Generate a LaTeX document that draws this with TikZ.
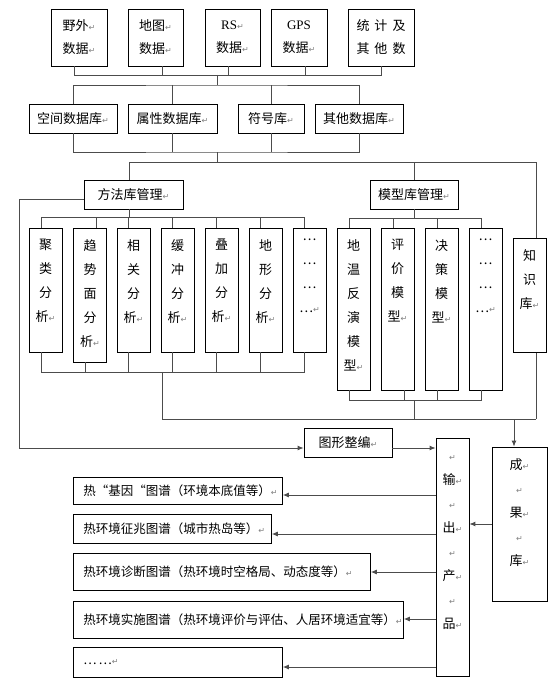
\documentclass[tikz,border=0pt]{standalone}
\usepackage{fontspec}
\setmainfont{Noto Sans CJK SC}
\newfontfamily\latinfont{Liberation Serif}
\newfontfamily\markfont{DejaVu Sans}
\usetikzlibrary{arrows.meta}
\newcommand{\rmk}{{\markfont\color{black!50}\fontsize{8}{8}\selectfont ↵}}
\newcommand{\colfont}{\fontsize{13}{24}\selectfont}

\tikzset{
  box/.style={draw, fill=white, line width=0.8pt, inner sep=2pt, align=center, font=\fontsize{13}{23}\selectfont},
  col/.style={draw, fill=white, line width=0.8pt, minimum width=33pt, label={[anchor=north, align=center, font=\colfont, yshift=-8pt]north:#1}},
  outbox/.style={draw, fill=white, line width=0.8pt, anchor=west, align=left, inner xsep=10pt, font=\fontsize{12.5}{14}\selectfont},
  link/.style={draw=black!70, line width=0.9pt},
  >={Latex[length=6pt,width=5pt]}
}

\begin{document}
\begin{tikzpicture}[x=1pt, y=-1pt]
          \useasboundingbox (0,0) rectangle (556,698);

          % data sources
          \node[box, minimum width=56pt, minimum height=57pt] (yewai) at (79,37.5) {野外\rmk\\数据\rmk};
          \node[box, minimum width=55pt, minimum height=57pt] (ditu) at (155.5,37.5) {地图\rmk\\数据\rmk};
          \node[box, minimum width=55pt, minimum height=57pt] (rs) at (232.5,37.5) {{\latinfont RS}\rmk\\数据\rmk};
          \node[box, minimum width=56pt, minimum height=57pt] (gps) at (299,37.5) {{\latinfont GPS}\\数据\rmk};
          \node[box, minimum width=66pt, minimum height=57pt] (tongji) at (381,37.5) {统\hspace{5pt}计\hspace{5pt}及\\其\hspace{5pt}他\hspace{5pt}数};

          % databases
          \node[box, minimum width=88pt, minimum height=29pt] (kongjian) at (73,118.5) {空间数据库\rmk};
          \node[box, minimum width=89pt, minimum height=29pt] (shuxing) at (172.5,118.5) {属性数据库\rmk};
          \node[box, minimum width=66pt, minimum height=29pt] (fuhao) at (271,118.5) {符号库\rmk};
          \node[box, minimum width=88pt, minimum height=29pt] (qita) at (359,118.5) {其他数据库\rmk};

          \node[box, minimum width=99pt, minimum height=29pt] (fangfa) at (133.5,194.5) {方法库管理\rmk};
          \node[box, minimum width=88pt, minimum height=29pt] (moxing) at (414,194.5) {模型库管理\rmk};

          % methods
          \node[col={聚\\类\\分\\析\rmk}, minimum height=124pt] (julei) at (45.5,290) {};
          \node[col={趋\\势\\面\\分\\析\rmk}, minimum height=134pt] (qushi) at (90,295) {};
          \node[col={相\\关\\分\\析\rmk}, minimum height=124pt] (xiangguan) at (133.5,290) {};
          \node[col={缓\\冲\\分\\析\rmk}, minimum height=124pt] (huanchong) at (177.5,290) {};
          \node[col={叠\\加\\分\\析\rmk}, minimum height=124pt] (diejia) at (221.5,290) {};
          \node[col={地\\形\\分\\析\rmk}, minimum height=124pt] (dixing) at (265.5,290) {};
          \node[col={…\\…\\…\\…\rmk}, minimum height=124pt] (fenxi) at (309.5,290) {};

          % models
          \node[col={地\\温\\反\\演\\模\\型\rmk}, minimum height=162pt] (diwen) at (353.5,309) {};
          \node[col={评\\价\\模\\型\rmk}, minimum height=162pt] (pingjia) at (397.5,309) {};
          \node[col={决\\策\\模\\型\rmk}, minimum height=162pt] (juece) at (441.5,309) {};
          \node[col={…\\…\\…\\…\rmk}, minimum height=162pt] (moxingqt) at (485.5,309) {};

          % products
          \node[box, minimum width=88pt, minimum height=29pt] (tuxing) at (348,442.5) {图形整编\rmk};
          \node[col={\vphantom{输}\rmk\\输\rmk\\\rmk\\出\rmk\\\rmk\\产\rmk\\\rmk\\品\rmk}, minimum height=238pt] (shuchu) at (452.5,557) {};
          \node[col={成\rmk\\\rmk\\果\rmk\\\rmk\\库\rmk}, minimum width=55pt, minimum height=154pt] (chengguo) at (519.5,524) {};

          \node[outbox, text width=189pt, minimum height=27pt] (out1) at (73,490.5) {热“基因“图谱（环境本底值等）\rmk};
          \node[outbox, text width=178pt, minimum height=29pt] (out2) at (73,528.5) {热环境征兆图谱（城市热岛等）\rmk};
          \node[outbox, text width=277pt, minimum height=37pt] (out3) at (73,571.5) {热环境诊断图谱（热环境时空格局、动态度等）\rmk};
          \node[outbox, text width=310pt, minimum height=37pt] (out4) at (73,619.5) {热环境实施图谱（热环境评价与评估、人居环境适宜等）\rmk};
          \node[outbox, text width=189pt, minimum height=30pt] (out5) at (73,662) {…\,…\rmk};

          \coordinate (s1) at (217,75);
          \coordinate (s2) at (217,85);
          \coordinate (d1) at (217,152);
          \coordinate (d2) at (217,162);
          \coordinate (r1) at (536,162);
          \coordinate (r2) at (536,419);
          \coordinate (m1) at (162,372);
          \coordinate (m2) at (162,419);
          \coordinate (n1) at (414,400);
          \coordinate (c1) at (514,419);
          \coordinate (lc) at (19,448);

          % sources -> databases
          \draw[link] ([xshift=-5pt]yewai.south) -- ++(0,9) -| (tongji.south);
          \draw[link] ([xshift=6.5pt]ditu.south) -- ++(0,9);
          \draw[link] ([xshift=-4.5pt]rs.south) -- ++(0,9);
          \draw[link] ([xshift=6pt]gps.south) -- ++(0,9);
          \draw[link] (s1) -- (s2);
          \draw[link] (kongjian.north) |- (s2) -| (qita.north);
          \draw[link] (shuxing.north) -- (shuxing.north |- s2);
          \draw[link] (fuhao.north) -- (fuhao.north |- s2);

          % databases -> managers
          \draw[link] (kongjian.south) |- (d1) -| (qita.south);
          \draw[link] (shuxing.south) -- (shuxing.south |- d1);
          \draw[link] (fuhao.south) -- (fuhao.south |- d1);
          \draw[link] (d1) -- (d2);
          \draw[link] ([xshift=-4.5pt]fangfa.north) |- (r1) -- (r2);
          \draw[link] (moxing.north) -- (moxing.north |- r1);

          % methods
          \draw[link] ([xshift=-4.5pt]fangfa.south) -- ++(0,9);
          \draw[link] ([xshift=-4.5pt]julei.north) -- ++(0,-10) -| ([xshift=-5.5pt]fenxi.north);
          \draw[link] ([xshift=6pt]qushi.north) -- ++(0,-10);
          \draw[link] ([xshift=-5.5pt]xiangguan.north) -- ++(0,-10);
          \draw[link] ([xshift=-5.5pt]huanchong.north) -- ++(0,-10);
          \draw[link] ([xshift=-5.5pt]diejia.north) -- ++(0,-10);
          \draw[link] ([xshift=-5.5pt]dixing.north) -- ++(0,-10);
          \draw[link] ([xshift=-4.5pt]julei.south) -- ++(0,20) -| ([xshift=-5.5pt]fenxi.south);
          \draw[link] ([xshift=-5pt]qushi.south) -- ++(0,10);
          \draw[link] ([xshift=-5.5pt]xiangguan.south) -- ++(0,20);
          \draw[link] ([xshift=-5.5pt]huanchong.south) -- ++(0,20);
          \draw[link] ([xshift=-5.5pt]diejia.south) -- ++(0,20);
          \draw[link] ([xshift=-5.5pt]dixing.south) -- ++(0,20);
          \draw[link] (m1) -- (m2) -- (r2);

          % models
          \draw[link] (moxing.south) -- ++(0,10);
          \draw[link] ([xshift=-4.5pt]diwen.north) -- ++(0,-9) -| ([xshift=-4.5pt]moxingqt.north);
          \draw[link] ([xshift=-4.5pt]pingjia.north) -- ++(0,-9);
          \draw[link] ([xshift=-4.5pt]juece.north) -- ++(0,-9);
          \draw[link] ([xshift=-4.5pt]diwen.south) -- ++(0,10) -| ([xshift=-4.5pt]moxingqt.south);
          \draw[link] ([xshift=6.5pt]pingjia.south) -- ++(0,10);
          \draw[link] ([xshift=-4.5pt]juece.south) -- ++(0,10);
          \draw[link] (n1) -- (n1 |- r2);

          \node[col={知\\识\\库\rmk}, minimum height=114pt] (zhishi) at (529.5,295) {};

          % products
          \draw[link, ->] (c1) -- (c1 |- chengguo.north);
          \draw[link, ->] ([yshift=-4.5pt]fangfa.west) -| (lc) -- (lc -| tuxing.west);
          \draw[link, ->] (tuxing.east |- lc) -- (shuchu.west |- lc);
          \draw[link, ->] (chengguo.west) -- (chengguo.west -| shuchu.east);

          \coordinate (o1) at (0,495);
          \coordinate (o2) at (0,534);
          \coordinate (o3) at (0,572);
          \coordinate (o4) at (0,619);
          \coordinate (o5) at (0,667);
          \draw[link, ->] (shuchu.west |- o1) -- (out1.east |- o1);
          \draw[link, ->] (shuchu.west |- o2) -- (out2.east |- o2);
          \draw[link, ->] (shuchu.west |- o3) -- (out3.east |- o3);
          \draw[link, ->] (shuchu.west |- o4) -- (out4.east |- o4);
          \draw[link, ->] (shuchu.west |- o5) -- (out5.east |- o5);

\end{tikzpicture}
\end{document}
